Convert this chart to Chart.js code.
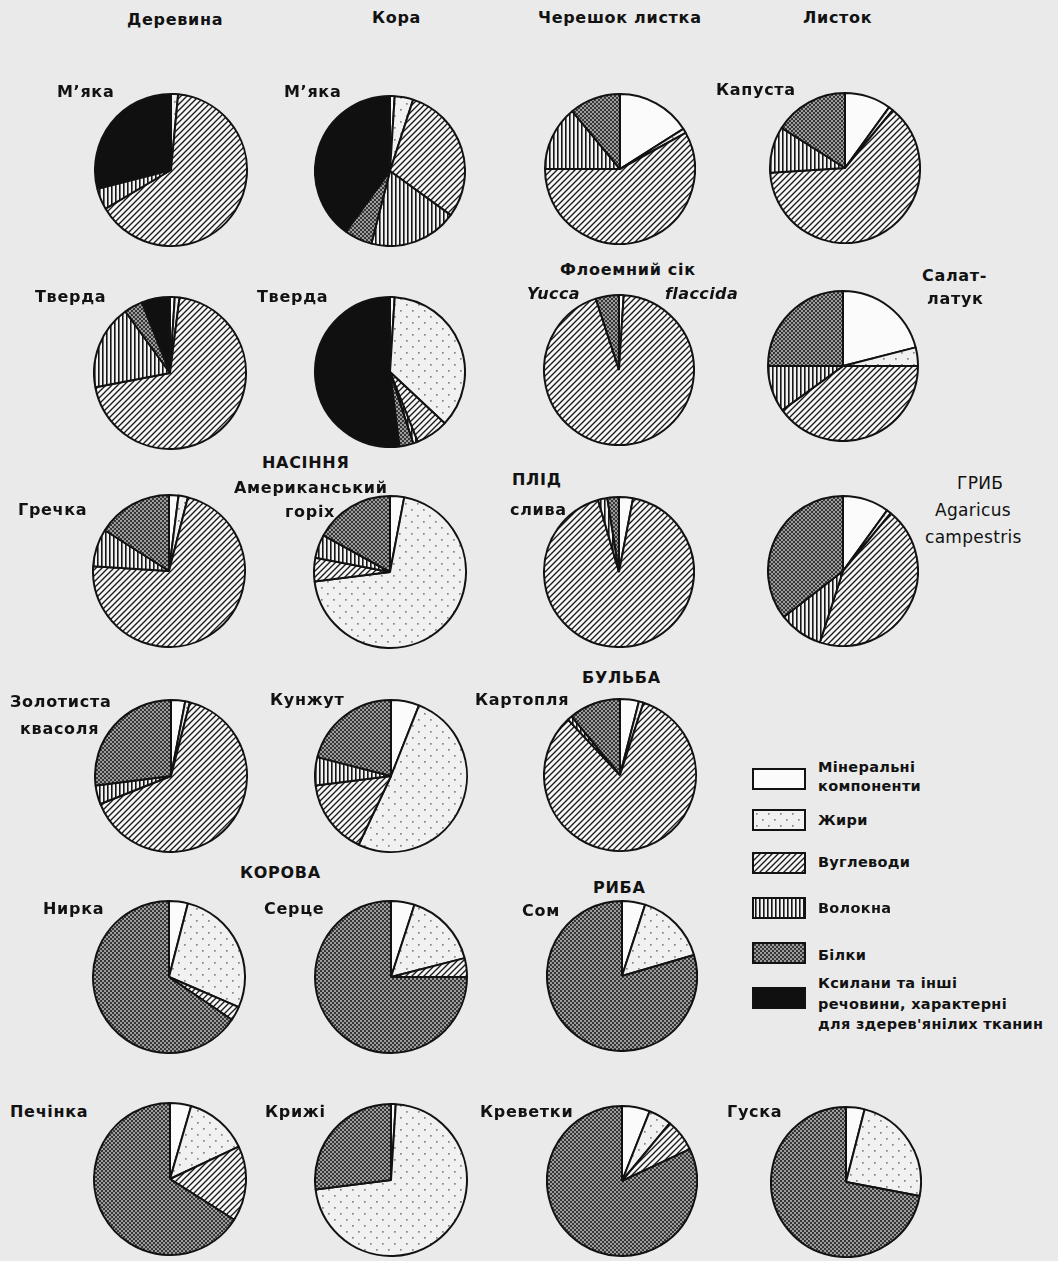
<!DOCTYPE html>
<html lang="uk">
<head>
<meta charset="utf-8">
<title>Хімічний склад тканин</title>
<script src="https://cdn.jsdelivr.net/npm/chart.js@4/dist/chart.umd.min.js"></script>
<style>
  html, body { margin: 0; padding: 0; }
  body {
    width: 1058px; height: 1261px; position: relative; overflow: hidden;
    background: #eaeaea; color: #121212;
    font-family: "DejaVu Sans", sans-serif;
  }
  .pie { position: absolute; }
  .cap {
    position: absolute; white-space: nowrap; line-height: 1;
    font-weight: bold; font-size: 16px; letter-spacing: 0.7px;
    transform: translateY(-50%);
  }
  .cap.it { font-style: italic; letter-spacing: 0.4px; }
  .cap.rg { font-weight: normal; font-size: 17px; letter-spacing: 0.3px; }
  .cap.lg { font-size: 14.5px; letter-spacing: 0.3px; }
  .swatch {
    position: absolute; width: 50px; height: 18px;
    border: 2px solid #121212; box-sizing: content-box;
  }
</style>
</head>
<body>
<script>
// fractions, in the order they run clockwise from 12 o'clock
const components = [
  "Мінеральні компоненти",
  "Жири",
  "Вуглеводи",
  "Волокна",
  "Білки",
  "Ксилани та інші речовини, характерні для здерев'янілих тканин"
];

// per cent of dry mass: [мінер., жири, вугл., волокна, білки, ксилани]
const woodSoft   = [0, 1.5, 65, 4.5, 0, 29];
const barkSoft   = [1, 4, 30, 19, 6, 40];
const petiole    = [16, 1, 58, 14, 11, 0];
const cabbage    = [10, 1, 63, 10, 16, 0];
const woodHard   = [1, 1, 70, 18, 4, 6];
const barkHard   = [1, 36, 7, 1, 3, 52];
const yuccaSap   = [1, 0, 94, 0, 5, 0];
const lettuce    = [21, 4, 40, 10, 25, 0];
const buckwheat  = [2, 2, 72, 8, 16, 0];
const pecan      = [3, 70, 5, 5, 17, 0];
const plum       = [3, 0, 92.5, 2, 2.5, 0];
const mushroom   = [10, 1, 44, 9.5, 35.5, 0];
const goldenBean = [3, 1, 65, 4, 27, 0];
const sesame     = [6, 51, 16, 6, 21, 0];
const potato     = [4, 1, 83, 1, 11, 0];
const cowKidney  = [4, 27.5, 3, 0, 65.5, 0];
const cowHeart   = [5, 16, 4, 0, 75, 0];
const catfish    = [5, 15.5, 0, 0, 79.5, 0];
const cowLiver   = [4.5, 13.5, 16, 0, 66, 0];
const cowLoin    = [1, 72, 0, 0, 27, 0];
const shrimp     = [6, 5, 7, 0, 82, 0];
const goose      = [4, 24, 0, 0, 72, 0];

// where each pie sits: values, centre x, centre y, radius
const pies = [
  [woodSoft, 171, 170, 76], [barkSoft, 390, 171, 75], [petiole, 620, 169, 75], [cabbage, 845, 168, 75],
  [woodHard, 170, 373, 76], [barkHard, 390, 372, 75], [yuccaSap, 619, 370, 75], [lettuce, 843, 366, 75],
  [buckwheat, 169, 571, 76], [pecan, 390, 572, 76], [plum, 619, 572, 75], [mushroom, 843, 571, 75],
  [goldenBean, 171, 776, 76], [sesame, 391, 776, 76], [potato, 620, 775, 76],
  [cowKidney, 169, 977, 76], [cowHeart, 391, 977, 76], [catfish, 622, 976, 75],
  [cowLiver, 170, 1179, 76], [cowLoin, 391, 1180, 76], [shrimp, 622, 1181, 75], [goose, 846, 1182, 75]
];

// captions: text, left x, middle y, extra class
const captions = [
  ["Деревина", 127, 20], ["Кора", 372, 18], ["Черешок листка", 538, 18], ["Листок", 803, 18],
  ["М’яка", 57, 92], ["М’яка", 284, 92], ["Капуста", 716, 90],
  ["Тверда", 35, 297], ["Тверда", 257, 297],
  ["Флоемний сік", 560, 270], ["Yucca", 527, 294, "it"], ["flaccida", 665, 294, "it"],
  ["Салат-", 922, 276], ["латук", 927, 299],
  ["НАСІННЯ", 262, 463], ["Американський", 234, 488], ["горіх", 285, 512],
  ["Гречка", 18, 510], ["ПЛІД", 512, 480], ["слива", 510, 510],
  ["ГРИБ", 957, 483, "rg"], ["Agaricus", 935, 510, "rg"], ["campestris", 925, 537, "rg"],
  ["Золотиста", 10, 702], ["квасоля", 20, 729], ["Кунжут", 270, 700],
  ["БУЛЬБА", 582, 678], ["Картопля", 475, 700],
  ["КОРОВА", 240, 873], ["Нирка", 43, 909], ["Серце", 264, 909],
  ["РИБА", 593, 888], ["Сом", 522, 911],
  ["Печінка", 10, 1112], ["Крижі", 265, 1112], ["Креветки", 480, 1112], ["Гуска", 727, 1112]
];

// legend rows: swatch top, text lines with their middle y
const legendRows = [
  [768, [["Мінеральні", 767], ["компоненти", 786]]],
  [809, [["Жири", 820]]],
  [852, [["Вуглеводи", 862]]],
  [897, [["Волокна", 908]]],
  [942, [["Білки", 955]]],
  [987, [["Ксилани та інші", 983], ["речовини, характерні", 1004], ["для здерев'янілих тканин", 1024]]]
];

// small tiles that become the fill patterns
function makeTile(w, h, paint) {
  const c = document.createElement("canvas");
  c.width = w; c.height = h;
  paint(c.getContext("2d"), w, h);
  return c;
}

const tiles = [
  makeTile(4, 4, (g, w, h) => { g.fillStyle = "#fbfbfb"; g.fillRect(0, 0, w, h); }),
  makeTile(12, 12, (g, w, h) => {
    g.fillStyle = "#f1f1f1"; g.fillRect(0, 0, w, h);
    g.fillStyle = "#858585";
    g.fillRect(2, 2, 1.7, 1.7);
    g.fillRect(8, 8, 1.7, 1.7);
  }),
  makeTile(6, 6, (g, w, h) => {
    g.fillStyle = "#f6f6f6"; g.fillRect(0, 0, w, h);
    g.strokeStyle = "#1a1a1a"; g.lineWidth = 1.35;
    g.beginPath();
    g.moveTo(-1, 7); g.lineTo(7, -1);
    g.moveTo(-1, 1); g.lineTo(1, -1);
    g.moveTo(5, 7); g.lineTo(7, 5);
    g.stroke();
  }),
  makeTile(4, 4, (g, w, h) => {
    g.fillStyle = "#f2f2f2"; g.fillRect(0, 0, w, h);
    g.fillStyle = "#161616"; g.fillRect(1, 0, 1.6, h);
  }),
  makeTile(4, 4, (g, w, h) => {
    g.fillStyle = "#9c9c9c"; g.fillRect(0, 0, w, h);
    g.fillStyle = "#363636"; g.fillRect(0, 0, 2, 2); g.fillRect(2, 2, 2, 2);
  }),
  makeTile(4, 4, (g, w, h) => { g.fillStyle = "#101010"; g.fillRect(0, 0, w, h); })
];

const border = 2;

pies.forEach(([values, cx, cy, r]) => {
  const size = Math.round(2 * r + border);
  const canvas = document.createElement("canvas");
  canvas.className = "pie";
  canvas.width = size;
  canvas.height = size;
  canvas.style.left = (cx - size / 2) + "px";
  canvas.style.top = (cy - size / 2) + "px";
  document.body.appendChild(canvas);
  const ctx = canvas.getContext("2d");

  new Chart(ctx, {
    type: "pie",
    data: {
      labels: components,
      datasets: [{
        data: values,
        backgroundColor: tiles.map(t => ctx.createPattern(t, "repeat")),
        borderColor: "#121212",
        borderWidth: border
      }]
    },
    options: {
      responsive: false,
      animation: false,
      events: [],
      layout: { padding: 0 },
      plugins: {
        legend: { display: false },
        tooltip: { enabled: false }
      }
    }
  });
});

captions.forEach(([text, x, y, cls]) => {
  const d = document.createElement("div");
  d.className = "cap" + (cls ? " " + cls : "");
  d.textContent = text;
  d.style.left = x + "px";
  d.style.top = y + "px";
  document.body.appendChild(d);
});

legendRows.forEach(([top, lines], i) => {
  const s = document.createElement("div");
  s.className = "swatch";
  s.style.left = "752px";
  s.style.top = top + "px";
  s.style.backgroundImage = "url(" + tiles[i].toDataURL() + ")";
  document.body.appendChild(s);
  lines.forEach(([text, y]) => {
    const d = document.createElement("div");
    d.className = "cap lg";
    d.textContent = text;
    d.style.left = "818px";
    d.style.top = y + "px";
    document.body.appendChild(d);
  });
});
</script>
</body>
</html>
